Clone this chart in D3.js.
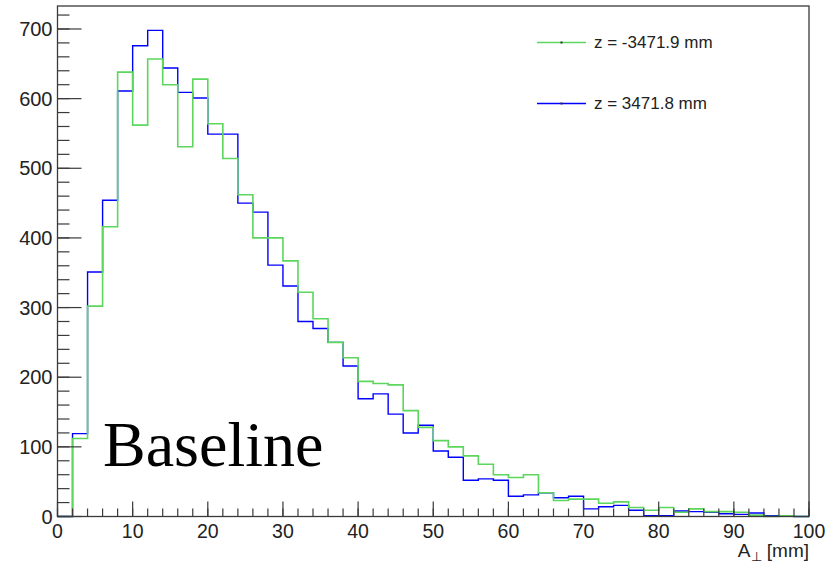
<!DOCTYPE html>
<html>
<head>
<meta charset="utf-8">
<script src="https://cdn.jsdelivr.net/npm/d3@7"></script>
<style>
  body { margin: 0; background: #fff; }
  svg { display: block; }
</style>
</head>
<body>
<svg id="chart" width="838" height="565"></svg>
<script>
// bin edges 0..100, width 2
var binEdges = d3.range(0, 102, 2);

// z = -3471.9 mm (green)
var greenCounts = [0, 112, 302, 416, 638, 562, 657, 620, 531, 628,
    564, 514, 462, 400, 400, 367, 322, 284, 250, 228,
    194, 191, 189, 152, 128, 109, 100, 87, 75, 60,
    56, 60, 34, 23, 25, 25, 19, 21, 13, 9,
    13, 6, 11, 7, 7, 6, 2, 0, 1, 0];

// z = 3471.8 mm (blue)
var blueCounts = [0, 119, 351, 454, 611, 676, 698, 644, 609, 601,
    549, 549, 450, 437, 361, 331, 280, 270, 250, 216,
    169, 176, 147, 120, 131, 94, 85, 52, 54, 52,
    29, 31, 34, 27, 29, 11, 14, 16, 9, 1,
    1, 8, 7, 6, 4, 3, 5, 1, 1, 0];

var legendLabels = ["z = -3471.9 mm", "z = 3471.8 mm"];
var seriesColors = ["#5cd65c", "#0000ff"];

var xTicks = d3.range(0, 110, 10);
var xMinor = d3.range(0, 101, 2);
var yTicks = d3.range(0, 800, 100);
var yMinor = d3.range(0, 740, 20);

drawChart();

function drawChart() {
    var svg = d3.select("#chart");
    var padL = 57.5, padR = 809, padT = 6, padB = 516.5;

    var x = d3.scaleLinear().domain([0, 100]).range([padL, padR]);
    var y = d3.scaleLinear().domain([0, 733]).range([padB, padT]);

    var axisColor = "#3a3a3a";
    var fontSans = "'Liberation Sans', Arial, Helvetica, sans-serif";

    // histogram outlines
    function histPoints(counts) {
        var pts = counts.map(function (c, i) { return [binEdges[i], c]; });
        pts.push([100, counts[counts.length - 1]]);
        return pts;
    }
    var stepLine = d3.line()
        .x(function (d) { return x(d[0]); })
        .y(function (d) { return y(d[1]); })
        .curve(d3.curveStepAfter);

    svg.append("path")
        .attr("d", stepLine(histPoints(blueCounts)))
        .attr("fill", "none")
        .attr("stroke", seriesColors[1])
        .attr("stroke-width", 1.4);

    svg.append("path")
        .attr("d", stepLine(histPoints(greenCounts)))
        .attr("fill", "none")
        .attr("stroke", seriesColors[0])
        .attr("stroke-width", 1.6);

    // frame
    svg.append("rect")
        .attr("x", padL).attr("y", padT)
        .attr("width", padR - padL).attr("height", padB - padT)
        .attr("fill", "none")
        .attr("stroke", axisColor)
        .attr("stroke-width", 1.3);

    // y ticks
    var yg = svg.append("g");
    yg.selectAll("line.minor").data(yMinor).enter().append("line")
        .attr("class", "minor")
        .attr("x1", padL).attr("x2", padL + 12)
        .attr("y1", function (d) { return y(d); })
        .attr("y2", function (d) { return y(d); })
        .attr("stroke", axisColor).attr("stroke-width", 1.2);
    yg.selectAll("line.major").data(yTicks).enter().append("line")
        .attr("class", "major")
        .attr("x1", padL).attr("x2", padL + 24)
        .attr("y1", function (d) { return y(d); })
        .attr("y2", function (d) { return y(d); })
        .attr("stroke", axisColor).attr("stroke-width", 1.2);
    yg.selectAll("text").data(yTicks).enter().append("text")
        .attr("x", 52.5)
        .attr("y", function (d) { return y(d) + 7; })
        .attr("text-anchor", "end")
        .attr("font-family", fontSans)
        .attr("font-size", 20)
        .attr("fill", "#222")
        .text(function (d) { return d; });

    // x ticks
    var xg = svg.append("g");
    xg.selectAll("line.minor").data(xMinor).enter().append("line")
        .attr("class", "minor")
        .attr("x1", function (d) { return x(d); })
        .attr("x2", function (d) { return x(d); })
        .attr("y1", padB).attr("y2", padB - 8)
        .attr("stroke", axisColor).attr("stroke-width", 1.2);
    xg.selectAll("line.major").data(xTicks).enter().append("line")
        .attr("class", "major")
        .attr("x1", function (d) { return x(d); })
        .attr("x2", function (d) { return x(d); })
        .attr("y1", padB).attr("y2", padB - 15)
        .attr("stroke", axisColor).attr("stroke-width", 1.2);
    xg.selectAll("text").data(xTicks).enter().append("text")
        .attr("x", function (d) { return x(d); })
        .attr("y", 538)
        .attr("text-anchor", "middle")
        .attr("font-family", fontSans)
        .attr("font-size", 19.5)
        .attr("fill", "#222")
        .text(function (d) { return d; });

    // x axis title
    var title = svg.append("text")
        .attr("x", 809).attr("y", 557)
        .attr("text-anchor", "end")
        .attr("font-family", fontSans)
        .attr("font-size", 19)
        .attr("fill", "#222");
    title.append("tspan").text("A");
    title.append("tspan").attr("dy", 4).attr("font-size", 13).text("\u22a5");
    title.append("tspan").attr("dy", -4).text(" [mm]");

    // legend
    var legendY = [42.5, 103.5];
    legendLabels.forEach(function (lab, i) {
        svg.append("line")
            .attr("x1", 537).attr("x2", 586)
            .attr("y1", legendY[i]).attr("y2", legendY[i])
            .attr("stroke", seriesColors[i])
            .attr("stroke-width", 1.4);
        svg.append("rect")
            .attr("x", 560.5).attr("y", legendY[i] - 1)
            .attr("width", 2).attr("height", 2)
            .attr("fill", "#333");
        svg.append("text")
            .attr("x", 594).attr("y", legendY[i] + 5.5)
            .attr("font-family", fontSans)
            .attr("font-size", 17)
            .attr("fill", "#222")
            .text(lab);
    });

    // big label
    svg.append("text")
        .attr("x", 103).attr("y", 466)
        .attr("font-family", "'Liberation Serif', 'Times New Roman', serif")
        .attr("font-size", 64)
        .attr("fill", "#000")
        .text("Baseline");
}
</script>
</body>
</html>
